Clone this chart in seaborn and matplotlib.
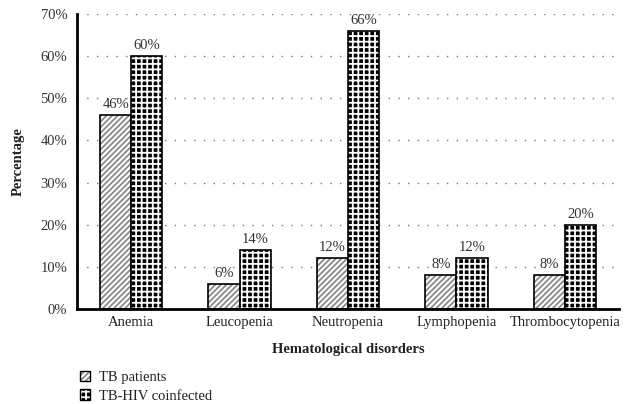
import matplotlib
matplotlib.use("Agg")
import matplotlib.pyplot as plt
import matplotlib.colors as mcolors
import seaborn as sns
import pandas as pd
from matplotlib.patches import Patch

categories = ["Anemia", "Leucopenia", "Neutropenia", "Lymphopenia", "Thrombocytopenia"]
tb_patients = [46, 6, 12, 8, 8]
tb_hiv = [60, 14, 66, 12, 20]
series = ["TB patients", "TB-HIV coinfected"]
yticks = [0, 10, 20, 30, 40, 50, 60, 70]

df = pd.DataFrame({
    "Disorder": categories * 2,
    "Value": tb_patients + tb_hiv,
    "Group": [series[0]] * len(categories) + [series[1]] * len(categories),
})

sns.set_style("white")
plt.rcParams["font.family"] = ["Liberation Serif", "DejaVu Serif"]
plt.rcParams["hatch.linewidth"] = 1.3

W, H = 626, 404
fig = plt.figure(figsize=(W / 100, H / 100), dpi=100)
left, right, top, bottom = 77, 619, 14, 309
ax = fig.add_axes([left / W, 1 - bottom / H, (right - left) / W, (bottom - top) / H])

face = ["white", "black"]
hatches = ["//////", "+++"]
hatch_cols = ["#8a8a8a", "white"]

sns.barplot(data=df, x="Disorder", y="Value", hue="Group", ax=ax,
            width=0.574, palette=face, edgecolor="black",
            linewidth=1.2, legend=False, saturation=1)


def style_patch(p, i):
    p.set_facecolor(face[i])
    p.set_edgecolor("black")
    p.set_hatch(hatches[i])
    p._hatch_color = mcolors.to_rgba(hatch_cols[i])


for i, container in enumerate(ax.containers):
    for bar in container:
        style_patch(bar, i)
    ax.bar_label(container, labels=[f"{v:.0f}%" for v in container.datavalues],
                 padding=3, fontsize=10.5, color="#333333")

ax.set_xlim(-0.5, len(categories) - 0.5)
ax.set_ylim(0, 70)
ax.set_yticks(yticks)
ax.set_yticklabels([f"{t}%" for t in yticks], fontsize=10.5, color="#333333")
ax.tick_params(axis="x", labelsize=10.5, length=0, pad=5, labelcolor="#222222")
ax.tick_params(axis="y", length=0, pad=7)
ax.yaxis.grid(True, linestyle=(0, (1, 6)), color="#777777", linewidth=1.0)
ax.set_axisbelow(True)
for s in ["top", "right"]:
    ax.spines[s].set_visible(False)
for s in ["left", "bottom"]:
    ax.spines[s].set_linewidth(2)
    ax.spines[s].set_color("black")

ax.set_xlabel("Hematological disorders", fontsize=10.5, fontweight="bold", color="#222222")
ax.set_ylabel("Percentage", fontsize=10.5, fontweight="bold", color="#222222")
ax.xaxis.set_label_coords(0.5, (bottom - 349) / (bottom - top), transform=ax.transAxes)
ax.xaxis.label.set_va("center")
ax.yaxis.set_label_coords((18 - left) / (right - left), 0.5, transform=ax.transAxes)
ax.yaxis.label.set_va("center")

handles = []
for i, s in enumerate(series):
    p = Patch(label=s)
    style_patch(p, i)
    handles.append(p)
leg = fig.legend(handles=handles, loc="upper left", bbox_to_anchor=(80 / W, 1 - 371 / H),
                 frameon=False, fontsize=10.5, handlelength=0.7, handleheight=0.7,
                 labelspacing=0.35, handletextpad=0.6, borderaxespad=0, borderpad=0,
                 labelcolor="#222222")
for i, p in enumerate(leg.get_patches()):
    style_patch(p, i)

fig.savefig("out.png", dpi=100)
